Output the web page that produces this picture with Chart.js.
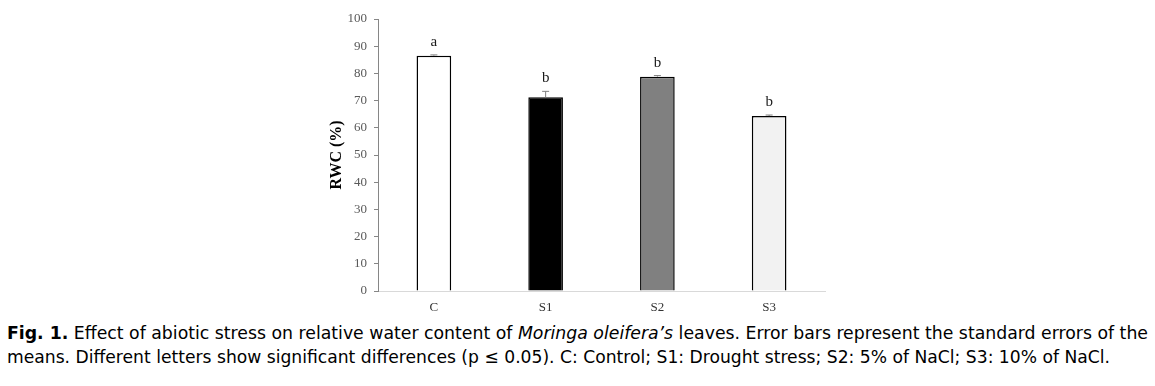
<!DOCTYPE html>
<html>
<head>
<meta charset="utf-8">
<script src="https://cdn.jsdelivr.net/npm/chart.js@4/dist/chart.umd.min.js"></script>
<style>
  body { margin: 0; background: #fff; }
  #wrap { position: relative; width: 1155px; height: 386px; }
  #box { position: absolute; left: 0; top: 0; width: 1155px; height: 318px; }
  .cap { position: absolute; left: 7px; font-family: Tahoma, "DejaVu Sans", sans-serif; font-size: 18px; color: #000; white-space: nowrap; transform-origin: left top; }
</style>
</head>
<body>
<div id="wrap">
  <div id="box"><canvas id="rwcChart"></canvas></div>
  <div class="cap" id="cap1" style="top:322px"><b>Fig. 1.</b> Effect of abiotic stress on relative water content of <i>Moringa oleifera’s</i> leaves. Error bars represent the standard errors of the</div>
  <div class="cap" id="cap2" style="top:346px">means. Different letters show significant differences (p ≤ 0.05). C: Control; S1: Drought stress; S2: 5% of NaCl; S3: 10% of NaCl.</div>
</div>
<script>
let categories = ['C', 'S1', 'S2', 'S3']
let rwc = [86.5, 71.2, 78.8, 64.3]
let stdErr = [0.3, 2.2, 0.4, 0.4]
let letters = ['a', 'b', 'b', 'b']
let barColors = ['#ffffff', '#000000', '#808080', '#f2f2f2']

// fit caption lines to the reference width
function fitLine(id, target) {
  var el = document.getElementById(id)
  var w = el.getBoundingClientRect().width
  el.style.transform = 'scaleX(' + (target / w) + ')'
}
fitLine('cap1', 1141)
fitLine('cap2', 1103)

// error bars (upper half) and letters above each bar
const extras = {
  id: 'extras',
  afterDatasetsDraw(chart) {
    const ctx = chart.ctx
    const x = chart.scales.x
    const y = chart.scales.y
    ctx.save()
    rwc.forEach((v, i) => {
      var cx = x.getPixelForValue(i)
      var top = y.getPixelForValue(v)
      var hi = y.getPixelForValue(v + stdErr[i])
      ctx.strokeStyle = '#808080'
      ctx.lineWidth = 1
      ctx.beginPath()
      ctx.moveTo(cx, top)
      ctx.lineTo(cx, hi)
      ctx.moveTo(cx - 3.5, hi)
      ctx.lineTo(cx + 3.5, hi)
      ctx.stroke()

      ctx.fillStyle = '#1a1a1a'
      ctx.font = '15px "Liberation Serif", serif'
      ctx.textAlign = 'center'
      ctx.textBaseline = 'alphabetic'
      ctx.fillText(letters[i], cx, hi - 9)
    })
    ctx.restore()
  }
}

const ctx = document.getElementById('rwcChart').getContext('2d')
const rwcChart = new Chart(ctx, {
  type: 'bar',
  data: {
    labels: categories,
    datasets: [{
      data: rwc,
      backgroundColor: barColors,
      borderColor: '#000000',
      borderWidth: 1.5,
      categoryPercentage: 1,
      barPercentage: 0.31
    }]
  },
  options: {
    responsive: true,
    maintainAspectRatio: false,
    animation: false,
    layout: { padding: { left: 324, right: 330, top: 19, bottom: 0 } },
    plugins: { legend: { display: false }, tooltip: { enabled: false } },
    scales: {
      x: {
        afterFit: (s) => { s.height = 318 - 291 },
        grid: { display: false, drawTicks: false },
        border: { color: '#d9d9d9', width: 1 },
        ticks: { color: '#333', padding: 9, font: { family: 'Liberation Serif', size: 13 } }
      },
      y: {
        min: 0,
        max: 100,
        afterFit: (s) => { s.width = 54 },
        ticks: { stepSize: 10, color: '#595959', padding: 7, font: { family: 'Liberation Serif', size: 13 } },
        grid: { drawOnChartArea: false, tickLength: 4, color: '#868686' },
        border: { color: '#868686', width: 1 },
        title: {
          display: true,
          text: 'RWC (%)',
          color: '#000',
          padding: { top: 3, bottom: 0 },
          font: { family: 'Liberation Serif', size: 16, weight: 'bold' }
        }
      }
    }
  },
  plugins: [extras]
})
</script>
</body>
</html>
